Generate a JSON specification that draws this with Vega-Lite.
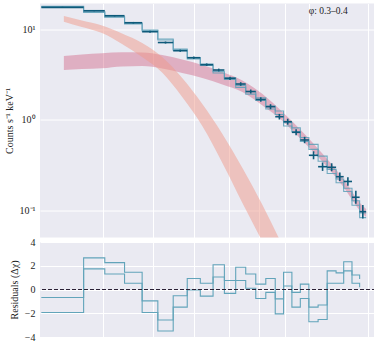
{
  "$schema": "https://vega.github.io/schema/vega-lite/v6.json",
  "padding": {"left": 4, "top": 3.5, "right": 0, "bottom": 0},
  "background": "white",
  "spacing": 4.5,
  "bounds": "flush",
  "config": {
    "view": {"fill": "#EAEAF2", "stroke": null},
    "font": "Liberation Serif",
    "axis": {"domain": false, "ticks": false, "gridColor": "#ffffff", "gridWidth": 1, "gridOpacity": 1,
      "labelFont": "Liberation Serif", "labelFontSize": 10, "labelColor": "#222222",
      "titleFont": "Liberation Serif", "titleFontSize": 10, "titleFontWeight": "normal", "titleColor": "#222222",
      "labelPadding": 5, "titlePadding": 5},
    "axisX": {"minExtent": 0, "maxExtent": 0, "labelPadding": 0}
  },
  "datasets": {
    "band1": [
      {"E": 3.359, "lo": 12.13, "hi": 14.03},
      {"E": 3.640, "lo": 10.60, "hi": 12.51},
      {"E": 3.981, "lo": 9.100, "hi": 11.01},
      {"E": 4.353, "lo": 6.879, "hi": 8.987},
      {"E": 4.761, "lo": 4.942, "hi": 7.056},
      {"E": 5.205, "lo": 3.332, "hi": 4.942},
      {"E": 5.692, "lo": 1.786, "hi": 2.897},
      {"E": 6.225, "lo": 0.8541, "hi": 1.495},
      {"E": 6.808, "lo": 0.3332, "hi": 0.6967},
      {"E": 7.444, "lo": 0.1204, "hi": 0.2933},
      {"E": 8.140, "lo": 0.04464, "hi": 0.1144},
      {"E": 8.902, "lo": 0.01495, "hi": 0.04032},
      {"E": 9.735, "lo": 0.005005, "hi": 0.01316}
    ],
    "band2": [
      {"E": 3.359, "lo": 3.550, "hi": 5.070},
      {"E": 3.640, "lo": 3.642, "hi": 5.267},
      {"E": 3.981, "lo": 3.707, "hi": 5.430},
      {"E": 4.353, "lo": 3.881, "hi": 5.570},
      {"E": 4.761, "lo": 3.931, "hi": 5.542},
      {"E": 5.205, "lo": 3.688, "hi": 5.201},
      {"E": 5.692, "lo": 3.289, "hi": 4.637},
      {"E": 6.225, "lo": 2.897, "hi": 4.032},
      {"E": 6.808, "lo": 2.455, "hi": 3.375},
      {"E": 7.444, "lo": 2.029, "hi": 2.719},
      {"E": 8.140, "lo": 1.439, "hi": 1.928},
      {"E": 8.902, "lo": 0.9699, "hi": 1.219},
      {"E": 9.735, "lo": 0.5831, "hi": 0.7330},
      {"E": 10.65, "lo": 0.3418, "hi": 0.4188},
      {"E": 11.64, "lo": 0.1856, "hi": 0.2275},
      {"E": 12.73, "lo": 0.09101, "hi": 0.1116},
      {"E": 12.92, "lo": 0.08434, "hi": 0.1034}
    ],
    "steps": [
      {"x": 3.038, "mA": 17.66, "mB": 17.94, "rA": -0.67, "rB": -1.94},
      {"x": 3.668, "mA": 15.41, "mB": 15.63, "rA": 2.66, "rB": 1.74},
      {"x": 4.031, "mA": 13.58, "mB": 13.81, "rA": 2.26, "rB": 1.31},
      {"x": 4.402, "mA": 11.48, "mB": 11.70, "rA": 1.45, "rB": 0.53},
      {"x": 4.761, "mA": 9.616, "mB": 9.836, "rA": -0.96, "rB": -1.94},
      {"x": 5.106, "mA": 7.629, "mB": 7.810, "rA": -2.57, "rB": -3.49},
      {"x": 5.468, "mA": 5.888, "mB": 6.047, "rA": -0.53, "rB": -1.48},
      {"x": 5.821, "mA": 4.720, "mB": 4.862, "rA": 0.93, "rB": -0.04},
      {"x": 6.170, "mA": 3.993, "mB": 4.140, "rA": 0.53, "rB": -0.56},
      {"x": 6.531, "mA": 3.297, "mB": 3.420, "rA": 2.08, "rB": 1.05},
      {"x": 6.869, "mA": 2.787, "mB": 2.913, "rA": 0.76, "rB": -0.33},
      {"x": 7.224, "mA": 2.282, "mB": 2.401, "rA": 1.88, "rB": 0.76},
      {"x": 7.554, "mA": 1.922, "mB": 2.044, "rA": 1.31, "rB": 0.10},
      {"x": 7.900, "mA": 1.635, "mB": 1.749, "rA": 0.45, "rB": -0.76},
      {"x": 8.261, "mA": 1.315, "mB": 1.417, "rA": 0.93, "rB": -0.24},
      {"x": 8.616, "mA": 1.145, "mB": 1.252, "rA": -0.79, "rB": -2.05},
      {"x": 8.942, "mA": 0.8530, "mB": 0.9313, "rA": 1.45, "rB": 0.30},
      {"x": 9.280, "mA": 0.7410, "mB": 0.8147, "rA": -0.24, "rB": -1.48},
      {"x": 9.635, "mA": 0.5766, "mB": 0.6362, "rA": 0.45, "rB": -0.76},
      {"x": 10.01, "mA": 0.4711, "mB": 0.5344, "rA": -1.48, "rB": -2.72},
      {"x": 10.43, "mA": 0.3488, "mB": 0.3969, "rA": -1.31, "rB": -2.52},
      {"x": 10.86, "mA": 0.2545, "mB": 0.2829, "rA": 1.57, "rB": 0.53},
      {"x": 11.30, "mA": 0.2017, "mB": 0.2219, "rA": 1.40, "rB": 0.53},
      {"x": 11.69, "mA": 0.1611, "mB": 0.1752, "rA": 2.34, "rB": 1.57},
      {"x": 12.13, "mA": 0.1138, "mB": 0.1275, "rA": 1.22, "rB": 0.53},
      {"x": 12.55, "mA": 0.08287, "mB": 0.09339, "rA": 0.88, "rB": 0.19},
      {"x": 12.92, "mA": 0.08287, "mB": 0.09339, "rA": null, "rB": null}
    ],
    "points": [
      {"lo": 3.038, "hi": 3.668, "c": 3.338, "y": 17.50, "ylo": 17.28, "yhi": 17.73},
      {"lo": 3.668, "hi": 4.031, "c": 3.845, "y": 16.05, "ylo": 15.81, "yhi": 16.30},
      {"lo": 4.031, "hi": 4.402, "c": 4.212, "y": 14.14, "ylo": 13.89, "yhi": 14.39},
      {"lo": 4.402, "hi": 4.761, "c": 4.578, "y": 11.83, "ylo": 11.59, "yhi": 12.07},
      {"lo": 4.761, "hi": 5.106, "c": 4.931, "y": 9.409, "ylo": 9.196, "yhi": 9.626},
      {"lo": 5.106, "hi": 5.468, "c": 5.284, "y": 7.146, "ylo": 6.966, "yhi": 7.330},
      {"lo": 5.468, "hi": 5.821, "c": 5.642, "y": 5.801, "ylo": 5.641, "yhi": 5.966},
      {"lo": 5.821, "hi": 6.170, "c": 5.993, "y": 4.856, "ylo": 4.710, "yhi": 5.006},
      {"lo": 6.170, "hi": 6.531, "c": 6.348, "y": 4.063, "ylo": 3.931, "yhi": 4.200},
      {"lo": 6.531, "hi": 6.869, "c": 6.698, "y": 3.550, "ylo": 3.426, "yhi": 3.679},
      {"lo": 6.869, "hi": 7.224, "c": 7.044, "y": 2.875, "ylo": 2.760, "yhi": 2.994},
      {"lo": 7.224, "hi": 7.554, "c": 7.387, "y": 2.487, "ylo": 2.375, "yhi": 2.603},
      {"lo": 7.554, "hi": 7.900, "c": 7.725, "y": 2.055, "ylo": 1.953, "yhi": 2.162},
      {"lo": 7.900, "hi": 8.261, "c": 8.078, "y": 1.676, "ylo": 1.585, "yhi": 1.773},
      {"lo": 8.261, "hi": 8.616, "c": 8.437, "y": 1.396, "ylo": 1.310, "yhi": 1.487},
      {"lo": 8.616, "hi": 8.942, "c": 8.777, "y": 1.082, "ylo": 1.008, "yhi": 1.162},
      {"lo": 8.942, "hi": 9.280, "c": 9.109, "y": 0.9528, "ylo": 0.8829, "yhi": 1.0284},
      {"lo": 9.280, "hi": 9.635, "c": 9.456, "y": 0.7275, "ylo": 0.6741, "yhi": 0.7853},
      {"lo": 9.635, "hi": 10.01, "c": 9.821, "y": 0.5981, "ylo": 0.5513, "yhi": 0.6488},
      {"lo": 10.01, "hi": 10.43, "c": 10.22, "y": 0.4053, "ylo": 0.3661, "yhi": 0.4487},
      {"lo": 10.43, "hi": 10.86, "c": 10.64, "y": 0.3032, "ylo": 0.2724, "yhi": 0.3375},
      {"lo": 10.86, "hi": 11.30, "c": 11.08, "y": 0.2986, "ylo": 0.2697, "yhi": 0.3307},
      {"lo": 11.30, "hi": 11.69, "c": 11.49, "y": 0.2350, "ylo": 0.2108, "yhi": 0.2623},
      {"lo": 11.69, "hi": 12.13, "c": 11.91, "y": 0.2081, "ylo": 0.1865, "yhi": 0.2321},
      {"lo": 12.13, "hi": 12.55, "c": 12.34, "y": 0.1392, "ylo": 0.1180, "yhi": 0.1642},
      {"lo": 12.55, "hi": 12.92, "c": 12.73, "y": 0.09650, "ylo": 0.08116, "yhi": 0.1147}
    ]
  },
  "vconcat": [
    {
      "width": 336,
      "height": 234,
      "layer": [
        {
          "data": {"name": "band2"},
          "mark": {"type": "area", "color": "#d0587a", "opacity": 0.4, "interpolate": "monotone", "clip": true},
          "encoding": {
            "x": {"field": "E", "type": "quantitative", "scale": {"type": "log", "domain": [3.02, 13.5], "nice": false}, "axis": {"title": null, "labels": false, "grid": true, "values": [4, 5, 6, 7, 8, 9, 10, 13]}},
            "y": {"field": "lo", "type": "quantitative", "scale": {"type": "log", "domain": [0.05, 19.3], "nice": false}, "axis": {"title": "Counts s⁻¹ keV⁻¹", "values": [0.1, 1, 10], "labelExpr": "datum.value >= 5 ? '10¹' : datum.value >= 0.5 ? '10⁰' : '10⁻¹'", "grid": true}},
            "y2": {"field": "hi"}
          }
        },
        {
          "data": {"name": "band1"},
          "mark": {"type": "area", "color": "#f09a8a", "opacity": 0.5, "interpolate": "monotone", "clip": true},
          "encoding": {
            "x": {"field": "E", "type": "quantitative", "scale": {"type": "log", "domain": [3.02, 13.5], "nice": false}, "axis": {"title": null, "labels": false, "grid": true, "values": [4, 5, 6, 7, 8, 9, 10, 13]}},
            "y": {"field": "lo", "type": "quantitative", "scale": {"type": "log", "domain": [0.05, 19.3], "nice": false}, "axis": {"title": "Counts s⁻¹ keV⁻¹", "values": [0.1, 1, 10], "labelExpr": "datum.value >= 5 ? '10¹' : datum.value >= 0.5 ? '10⁰' : '10⁻¹'", "grid": true}},
            "y2": {"field": "hi"}
          }
        },
        {
          "data": {"name": "steps"},
          "mark": {"type": "line", "interpolate": "step-after", "color": "#5d9fb7", "strokeWidth": 1.1, "opacity": 0.85, "clip": true},
          "encoding": {
            "x": {"field": "x", "type": "quantitative", "scale": {"type": "log", "domain": [3.02, 13.5], "nice": false}, "axis": {"title": null, "labels": false, "grid": true, "values": [4, 5, 6, 7, 8, 9, 10, 13]}},
            "y": {"field": "mA", "type": "quantitative", "scale": {"type": "log", "domain": [0.05, 19.3], "nice": false}, "axis": {"title": "Counts s⁻¹ keV⁻¹", "values": [0.1, 1, 10], "labelExpr": "datum.value >= 5 ? '10¹' : datum.value >= 0.5 ? '10⁰' : '10⁻¹'", "grid": true}}
          }
        },
        {
          "data": {"name": "steps"},
          "mark": {"type": "line", "interpolate": "step-after", "color": "#5d9fb7", "strokeWidth": 1.1, "opacity": 0.85, "clip": true},
          "encoding": {
            "x": {"field": "x", "type": "quantitative", "scale": {"type": "log", "domain": [3.02, 13.5], "nice": false}, "axis": {"title": null, "labels": false, "grid": true, "values": [4, 5, 6, 7, 8, 9, 10, 13]}},
            "y": {"field": "mB", "type": "quantitative", "scale": {"type": "log", "domain": [0.05, 19.3], "nice": false}, "axis": {"title": "Counts s⁻¹ keV⁻¹", "values": [0.1, 1, 10], "labelExpr": "datum.value >= 5 ? '10¹' : datum.value >= 0.5 ? '10⁰' : '10⁻¹'", "grid": true}}
          }
        },
        {
          "data": {"name": "points"},
          "mark": {"type": "rule", "color": "#0e5a7a", "strokeWidth": 1.6},
          "encoding": {
            "x": {"field": "lo", "type": "quantitative", "scale": {"type": "log", "domain": [3.02, 13.5], "nice": false}, "axis": {"title": null, "labels": false, "grid": true, "values": [4, 5, 6, 7, 8, 9, 10, 13]}},
            "x2": {"field": "hi"},
            "y": {"field": "y", "type": "quantitative", "scale": {"type": "log", "domain": [0.05, 19.3], "nice": false}, "axis": {"title": "Counts s⁻¹ keV⁻¹", "values": [0.1, 1, 10], "labelExpr": "datum.value >= 5 ? '10¹' : datum.value >= 0.5 ? '10⁰' : '10⁻¹'", "grid": true}}
          }
        },
        {
          "data": {"name": "points"},
          "mark": {"type": "rule", "color": "#0e5a7a", "strokeWidth": 1.6},
          "encoding": {
            "x": {"field": "c", "type": "quantitative", "scale": {"type": "log", "domain": [3.02, 13.5], "nice": false}, "axis": {"title": null, "labels": false, "grid": true, "values": [4, 5, 6, 7, 8, 9, 10, 13]}},
            "y": {"field": "ylo", "type": "quantitative", "scale": {"type": "log", "domain": [0.05, 19.3], "nice": false}, "axis": {"title": "Counts s⁻¹ keV⁻¹", "values": [0.1, 1, 10], "labelExpr": "datum.value >= 5 ? '10¹' : datum.value >= 0.5 ? '10⁰' : '10⁻¹'", "grid": true}},
            "y2": {"field": "yhi"}
          }
        },
        {
          "data": {"values": [{"label": "φ: 0.3–0.4", "E": 10.0, "v": 15.9}]},
          "mark": {"type": "text", "align": "left", "baseline": "middle", "fontSize": 9.5, "font": "Liberation Serif", "color": "#222222"},
          "encoding": {
            "x": {"field": "E", "type": "quantitative", "scale": {"type": "log", "domain": [3.02, 13.5], "nice": false}, "axis": {"title": null, "labels": false, "grid": true, "values": [4, 5, 6, 7, 8, 9, 10, 13]}},
            "y": {"field": "v", "type": "quantitative", "scale": {"type": "log", "domain": [0.05, 19.3], "nice": false}, "axis": {"title": "Counts s⁻¹ keV⁻¹", "values": [0.1, 1, 10], "labelExpr": "datum.value >= 5 ? '10¹' : datum.value >= 0.5 ? '10⁰' : '10⁻¹'", "grid": true}},
            "text": {"field": "label"}
          }
        }
      ]
    },
    {
      "width": 336,
      "height": 95,
      "data": {"name": "steps"},
      "layer": [
        {
          "mark": {"type": "line", "interpolate": "step-after", "color": "#62a4ba", "strokeWidth": 1.1, "clip": true},
          "encoding": {
            "x": {"field": "x", "type": "quantitative", "scale": {"type": "log", "domain": [3.02, 13.5], "nice": false}, "axis": {"title": null, "labels": false, "grid": true, "values": [4, 5, 6, 7, 8, 9, 10, 13]}},
            "y": {"field": "rA", "type": "quantitative", "scale": {"domain": [-4, 4], "nice": false, "zero": false}, "axis": {"title": "Residuals (Δχ)", "values": [-4, -2, 0, 2, 4], "grid": true}}
          }
        },
        {
          "mark": {"type": "line", "interpolate": "step-after", "color": "#62a4ba", "strokeWidth": 1.1, "clip": true},
          "encoding": {
            "x": {"field": "x", "type": "quantitative", "scale": {"type": "log", "domain": [3.02, 13.5], "nice": false}, "axis": {"title": null, "labels": false, "grid": true, "values": [4, 5, 6, 7, 8, 9, 10, 13]}},
            "y": {"field": "rB", "type": "quantitative", "scale": {"domain": [-4, 4], "nice": false, "zero": false}, "axis": {"title": "Residuals (Δχ)", "values": [-4, -2, 0, 2, 4], "grid": true}}
          }
        },
        {
          "mark": {"type": "rule", "color": "#2a2035", "strokeWidth": 1.1, "strokeDash": [3.5, 2.5]},
          "encoding": {
            "y": {"datum": 0, "type": "quantitative", "scale": {"domain": [-4, 4], "nice": false, "zero": false}, "axis": {"title": "Residuals (Δχ)", "values": [-4, -2, 0, 2, 4], "grid": true}}
          }
        }
      ]
    }
  ]
}
